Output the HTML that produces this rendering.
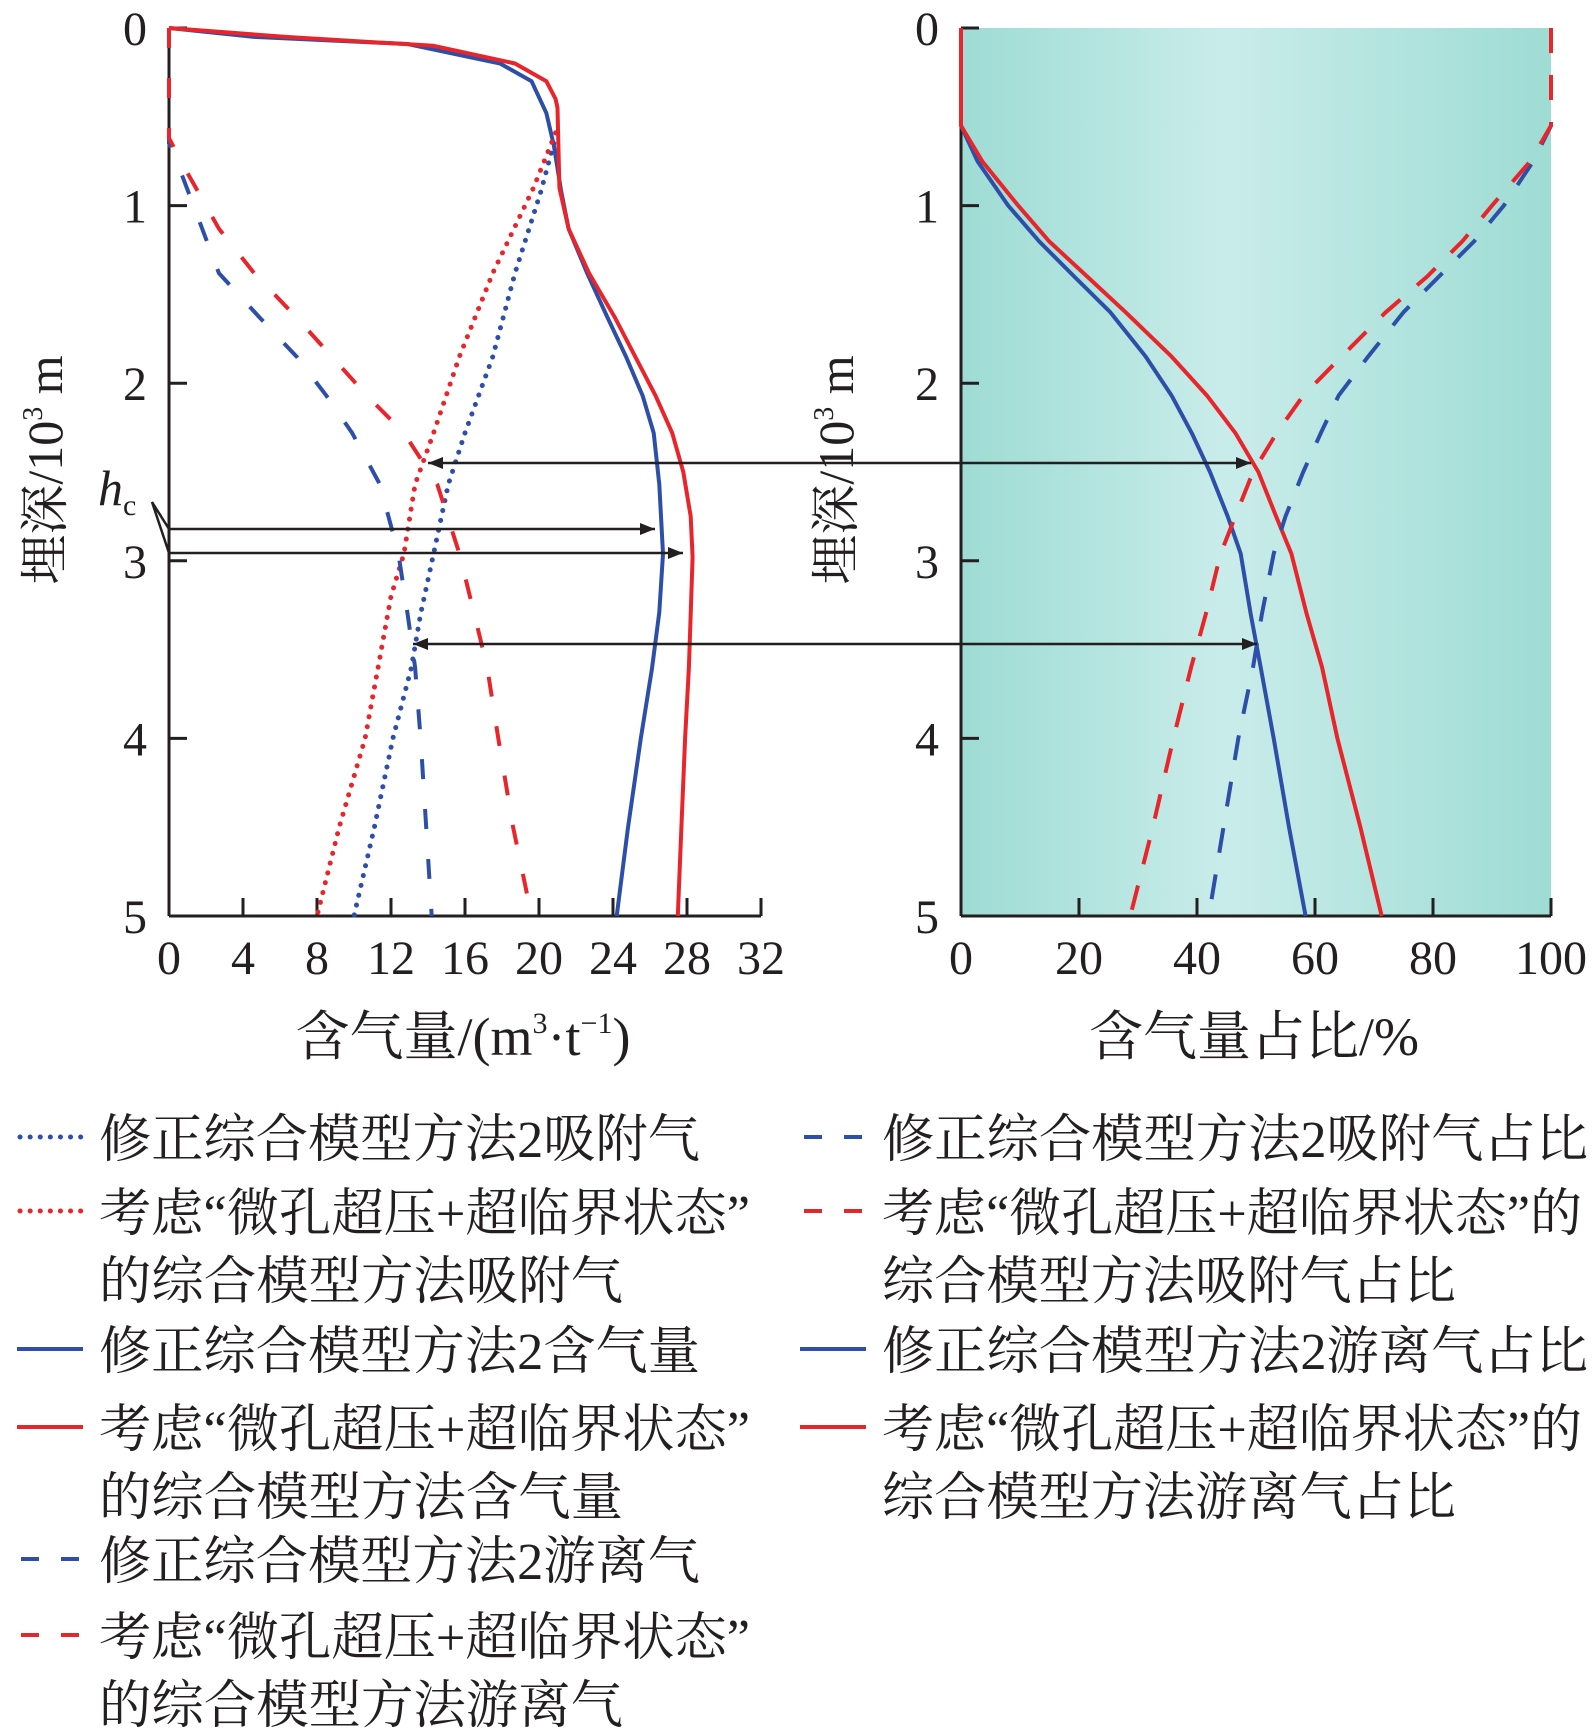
<!DOCTYPE html>
<html><head><meta charset="utf-8"><style>
html,body{margin:0;padding:0;background:#fff}
svg{display:block}
text{font-family:"Liberation Serif","Noto Serif CJK SC",serif;fill:#231f20}
</style></head><body>
<svg id="chart" width="1594" height="1732" viewBox="0 0 1594 1732" xmlns="http://www.w3.org/2000/svg">
<defs>
<linearGradient id="bg" x1="0" x2="1" y1="0" y2="0">
<stop offset="0" stop-color="#9edcd4"/><stop offset="0.45" stop-color="#c9ecea"/><stop offset="1" stop-color="#9edcd4"/>
</linearGradient>
<marker id="ah" viewBox="0 0 10 10" refX="10" refY="5" markerWidth="8" markerHeight="6" orient="auto-start-reverse"><path d="M0,1 L10,5 L0,9 z" fill="#231f20"/></marker>
</defs>
<rect x="961" y="28" width="590" height="888" fill="url(#bg)"/>
<g id="left"></g><g id="right"></g><g id="ann"></g><g id="legend"></g>
</svg>
<script>
const depthTicks=[0,1,2,3,4,5];
const leftXTicks=[0,4,8,12,16,20,24,28,32];
const rightXTicks=[0,20,40,60,80,100];
// left chart data (depth in 10^3 m, gas in m3/t)
const blueTotalD=[0,0.05,0.09,0.2,0.3,0.48,0.66,0.92,1.13,1.38,1.63,1.85,2.07,2.28,2.57,2.96,3.29,3.61,4.0,4.51,5];
const blueTotalV=[0,4.6,12.9,17.9,19.6,20.4,20.8,21.2,21.6,22.6,23.7,24.7,25.6,26.2,26.5,26.7,26.5,26.1,25.5,24.8,24.2];
const redTotalD=[0,0.05,0.1,0.2,0.3,0.4,0.45,0.9,1.13,1.38,1.63,1.85,2.07,2.28,2.5,2.75,2.98,3.3,3.6,4.0,4.5,5];
const redTotalV=[0,6.3,14.3,18.7,20.4,20.9,21.0,21.1,21.6,22.7,24.1,25.2,26.3,27.2,27.8,28.2,28.3,28.2,28.1,27.9,27.7,27.5];
const blueAdsD=[0.65,0.92,1.38,1.85,2.28,2.57,2.96,3.3,3.6,4.0,4.5,5];
const blueAdsV=[20.8,20.1,18.7,17.5,16.0,15.1,14.3,13.6,13.1,12.1,11.1,10.0];
const redAdsD=[0.59,0.9,1.38,1.85,2.28,2.57,2.96,3.2,3.6,4.0,4.5,5];
const redAdsV=[20.9,19.7,17.5,15.7,14.3,13.3,12.7,12.0,11.3,10.6,9.2,8.0];
const blueFreeD=[0,0.65,0.8,1.38,1.63,1.85,2.07,2.28,2.57,2.96,3.3,3.6,4.0,4.5,5];
const blueFreeV=[0,0,0.6,2.7,4.9,6.9,8.5,9.9,11.4,12.4,12.9,13.3,13.6,13.9,14.2];
const redFreeD=[0,0.62,0.78,1.13,1.38,1.63,1.85,2.07,2.28,2.57,2.96,3.3,3.6,4.0,4.5,5];
const redFreeV=[0,0,0.8,2.7,4.6,6.9,8.8,10.7,12.7,14.5,15.7,16.5,17.2,17.8,18.6,19.6];
// right chart data (%)
const ratioD=[0,0.55,0.75,1.0,1.2,1.4,1.6,1.85,2.07,2.28,2.5,2.75,2.96,3.3,3.6,4.0,4.5,5];
const blueFreeR=[0,0,2.8,8,13.2,19.2,25.3,31.3,35.7,39.1,42.2,45.2,47.4,49.1,50.8,53,55.6,58.4];
const redFreeR=[0,0,3.6,9.7,14.9,21.4,27.9,35.7,41.7,46.5,50.4,53.4,56,58.6,61.2,63.8,67.7,71.3];
const blueAdsR=[100,100,97,92,87,81,75,69,64,61,58,55,53,51,49.5,47,44.5,42];
const redAdsR=[100,100,96.5,90,85,79,72,64.5,58,53.5,49.5,46.5,44,41.5,39,36,32.5,28.7];

const NS="http://www.w3.org/2000/svg";
const BLUE="#2e4fa8",RED="#e8252b",INK="#231f20";
function mk(tag,attrs,parent){const e=document.createElementNS(NS,tag);for(const k in attrs)e.setAttribute(k,attrs[k]);parent.appendChild(e);return e;}
const T=28,B=916;
const yS=d=>T+(B-T)*d/5;
const lx=v=>169+(761-169)*v/32;
const rx=v=>961+(1551-961)*v/100;

function axes(g,x0,x1,xs,ticks,name){
  let e;
  e=mk('line',{x1:x0,y1:T,x2:x0,y2:B,stroke:INK,'stroke-width':3},g);
  
  e=mk('line',{x1:x0,y1:B,x2:x1,y2:B,stroke:INK,'stroke-width':3},g);
  
  depthTicks.forEach(d=>{
    mk('line',{x1:x0,y1:yS(d),x2:x0+18,y2:yS(d),stroke:INK,'stroke-width':3},g);
    e=mk('text',{x:x0-34,y:yS(d)+17,'font-size':48,'text-anchor':'middle'},g);e.textContent=d;
    
  });
  ticks.forEach(t=>{
    mk('line',{x1:xs(t),y1:B,x2:xs(t),y2:B-18,stroke:INK,'stroke-width':3},g);
    e=mk('text',{x:xs(t),y:B+58,'font-size':48,'text-anchor':'middle'},g);e.textContent=t;
    
  });
}
function series(g,D,V,xs,color,dash,name){
  const p=D.map((d,i)=>(i?'L':'M')+xs(V[i]).toFixed(1)+','+yS(d).toFixed(1)).join(' ');
  const a={d:p,fill:'none',stroke:color,'stroke-width':4,'stroke-linejoin':'round'};
  if(dash==='dot'){a['stroke-dasharray']='0.1 10';a['stroke-linecap']='round';a['stroke-width']=5;}
  else if(dash){a['stroke-dasharray']=dash;}
  const e=mk('path',a,g);
  
  
}
const L=document.getElementById('left'),R=document.getElementById('right');
axes(L,169,761,lx,leftXTicks,'left');
axes(R,961,1551,rx,rightXTicks,'right');
series(L,blueTotalD,blueTotalV,lx,BLUE,null,'blue-total-gas-line');
series(L,redTotalD,redTotalV,lx,RED,null,'red-total-gas-line');
series(L,blueAdsD,blueAdsV,lx,BLUE,'dot','blue-adsorbed-gas-line');
series(L,redAdsD,redAdsV,lx,RED,'dot','red-adsorbed-gas-line');
series(L,blueFreeD,blueFreeV,lx,BLUE,'20 30','blue-free-gas-line');
series(L,redFreeD,redFreeV,lx,RED,'20 30','red-free-gas-line');
series(R,ratioD,blueFreeR,rx,BLUE,null,'blue-free-ratio-line');
series(R,ratioD,redFreeR,rx,RED,null,'red-free-ratio-line');
series(R,ratioD,blueAdsR,rx,BLUE,'25 22','blue-adsorbed-ratio-line');
series(R,ratioD,redAdsR,rx,RED,'25 22','red-adsorbed-ratio-line');

// axis titles
let e;
const A=document.getElementById('ann');
e=mk('text',{x:463,y:1055,'font-size':54,'text-anchor':'middle'},A);
e.innerHTML='含气量/(m<tspan font-size="30" dy="-22">3</tspan><tspan dy="22">·t</tspan><tspan font-size="30" dy="-22">−1</tspan><tspan dy="22">)</tspan>';

e=mk('text',{x:1254,y:1055,'font-size':54,'text-anchor':'middle'},A);e.textContent='含气量占比/%';

[[62,'left'],[853,'right']].forEach(([x,n])=>{
  e=mk('text',{x:x,y:470,'font-size':50,'text-anchor':'middle',transform:`rotate(-90 ${x} 470)`},A);
  e.innerHTML='埋深/10<tspan font-size="28" dy="-20">3</tspan><tspan dy="20"> m</tspan>';
  
});
// arrows
[[463,1251,428],[644,1257,413]].forEach(([y,x1,x2],i)=>{
  e=mk('line',{x1:x1,y1:y,x2:x2,y2:y,stroke:INK,'stroke-width':2.5,'marker-start':'url(#ah)','marker-end':'url(#ah)'},A);
  
});
[[529,655],[553,683]].forEach(([y,x2],i)=>{
  e=mk('line',{x1:169,y1:y,x2:x2,y2:y,stroke:INK,'stroke-width':2.5,'marker-end':'url(#ah)'},A);
  
});
e=mk('path',{d:'M169,529 L152,502 L169,553',fill:'none',stroke:INK,'stroke-width':2.5},A);

e=mk('text',{x:98,y:505,'font-size':50,'font-style':'italic'},A);e.innerHTML='h<tspan font-size="30" font-style="normal" dy="10">c</tspan>';


// legend
const LG=document.getElementById('legend');
const entries=[
 [17,99,1137,BLUE,'dot',['修正综合模型方法2吸附气'],[601]],
 [17,99,1211,RED,'dot',['考虑“微孔超压+超临界状态”','的综合模型方法吸附气'],[651,524]],
 [17,99,1349,BLUE,null,['修正综合模型方法2含气量'],[601]],
 [17,99,1427,RED,null,['考虑“微孔超压+超临界状态”','的综合模型方法含气量'],[651,524]],
 [17,99,1559,BLUE,'dash',['修正综合模型方法2游离气'],[601]],
 [17,99,1635,RED,'dash',['考虑“微孔超压+超临界状态”','的综合模型方法游离气'],[651,524]],
 [800,882,1137,BLUE,'dash',['修正综合模型方法2吸附气占比'],[706]],
 [800,882,1211,RED,'dash',['考虑“微孔超压+超临界状态”的','综合模型方法吸附气占比'],[700,574]],
 [800,882,1349,BLUE,null,['修正综合模型方法2游离气占比'],[706]],
 [800,882,1427,RED,null,['考虑“微孔超压+超临界状态”的','综合模型方法游离气占比'],[700,574]]
];
entries.forEach(([sx,tx,y,c,st,lines,widths],i)=>{
  const g=mk('g',{},LG);
  
  
  const a={x1:sx,y1:y,x2:sx+66,y2:y,stroke:c,'stroke-width':4};
  if(st==='dot'){a['stroke-dasharray']='0.1 10';a['stroke-linecap']='round';a['stroke-width']=5;a.x1=sx+3;}
  if(st==='dash'){a['stroke-dasharray']='18 22';a.x1=sx+4;}
  mk('line',a,g);
  lines.forEach((t,j)=>{const tt=mk('text',{x:tx,y:y+20+j*68,'font-size':52,textLength:widths[j],lengthAdjust:'spacingAndGlyphs'},g);tt.textContent=t;});
});
</script>
</body></html>
